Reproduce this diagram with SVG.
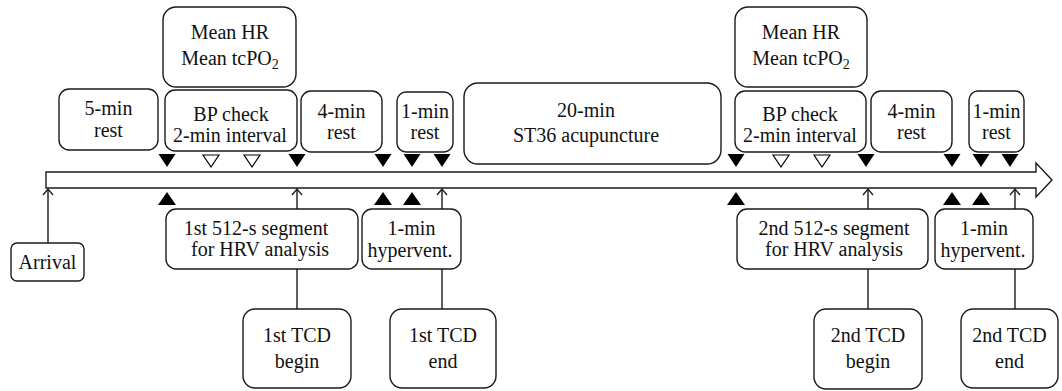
<svg xmlns="http://www.w3.org/2000/svg" width="1062" height="391" viewBox="0 0 1062 391" font-family="Liberation Serif, Times New Roman, DejaVu Serif, serif">
<style>
.b{fill:#fff;stroke:#1a1a1a;stroke-width:1.4}
text{font-family:"Liberation Serif","Times New Roman","DejaVu Serif",serif;font-size:20px;fill:#111;text-anchor:middle}
.f{fill:#000}
.h{fill:#fff;stroke:#000;stroke-width:1.2}
.l{stroke:#1a1a1a;stroke-width:1.4;fill:none}
</style>
<defs>
<marker id="oa" markerWidth="10" markerHeight="12" refX="7" refY="6" orient="auto" markerUnits="userSpaceOnUse" viewBox="0 0 10 12">
<path d="M1,1 L7,6 L1,11" fill="none" stroke="#1a1a1a" stroke-width="1.3"/>
</marker>
</defs>
<rect width="1062" height="391" fill="#fff"/>
<g id="timeline">
<polygon class="b" points="46,172 1036,172 1036,163 1052,180 1036,197 1036,188 46,188"/>
</g>
<g id="connectors">
<line class="l" x1="48" y1="243" x2="48" y2="189" marker-end="url(#oa)"/>
<line class="l" x1="297" y1="209" x2="297" y2="189" marker-end="url(#oa)"/>
<line class="l" x1="297" y1="269" x2="297" y2="309"/>
<line class="l" x1="442" y1="209" x2="442" y2="189" marker-end="url(#oa)"/>
<line class="l" x1="442" y1="269" x2="442" y2="309"/>
<line class="l" x1="868" y1="209" x2="868" y2="189" marker-end="url(#oa)"/>
<line class="l" x1="868" y1="269" x2="868" y2="309"/>
<line class="l" x1="1015" y1="209" x2="1015" y2="189" marker-end="url(#oa)"/>
<line class="l" x1="1015" y1="269" x2="1015" y2="309"/>
</g>
<g id="markers">
<polygon class="f" points="158.5,154 175.5,154 167,167"/>
<polygon class="h" points="203,155 219,155 211,167"/>
<polygon class="h" points="244,155 260,155 252,167"/>
<polygon class="f" points="288.5,154 305.5,154 297,167"/>
<polygon class="f" points="374.5,154 391.5,154 383,167"/>
<polygon class="f" points="403.5,154 420.5,154 412,167"/>
<polygon class="f" points="433.5,154 450.5,154 442,167"/>
<polygon class="f" points="727.5,154 744.5,154 736,167"/>
<polygon class="h" points="773,155 789,155 781,167"/>
<polygon class="h" points="814,155 830,155 822,167"/>
<polygon class="f" points="857.5,154 874.5,154 866,167"/>
<polygon class="f" points="943.5,154 960.5,154 952,167"/>
<polygon class="f" points="972.5,154 989.5,154 981,167"/>
<polygon class="f" points="1001.5,154 1018.5,154 1010,167"/>
<polygon class="f" points="167,192 158,205 176,205"/>
<polygon class="f" points="383,192 374,205 392,205"/>
<polygon class="f" points="412,192 403,205 421,205"/>
<polygon class="f" points="736,192 727,205 745,205"/>
<polygon class="f" points="952,192 943,205 961,205"/>
<polygon class="f" points="981,192 972,205 990,205"/>
</g>
<g id="rest5"><rect class="b" x="59" y="89" width="99" height="61" rx="10"/><text x="108.5" y="115">5-min</text><text x="108.5" y="137">rest</text></g>
<g id="mean1"><rect class="b" x="163" y="7" width="133" height="80" rx="13"/><text x="230" y="39">Mean HR</text><text x="230" y="65">Mean tcPO<tspan font-size="14" dy="4">2</tspan></text></g>
<g id="bp1"><rect class="b" x="165" y="90" width="132" height="61" rx="10"/><text x="231" y="121">BP check</text><text x="230" y="142">2-min interval</text></g>
<g id="rest4"><rect class="b" x="301" y="91" width="81" height="61" rx="10"/><text x="341.5" y="118">4-min</text><text x="341.5" y="139">rest</text></g>
<g id="rest1"><rect class="b" x="397" y="92" width="56" height="60" rx="9"/><text x="425" y="118">1-min</text><text x="425" y="139">rest</text></g>
<g id="acu"><rect class="b" x="464" y="83" width="257" height="81" rx="14"/><text x="586" y="117">20-min</text><text x="586" y="142">ST36 acupuncture</text></g>
<g id="mean2"><rect class="b" x="735" y="7" width="132" height="80" rx="13"/><text x="801" y="39">Mean HR</text><text x="801" y="65">Mean tcPO<tspan font-size="14" dy="4">2</tspan></text></g>
<g id="bp2"><rect class="b" x="735" y="91" width="131" height="61" rx="10"/><text x="800" y="121">BP check</text><text x="800" y="142">2-min interval</text></g>
<g id="rest4b"><rect class="b" x="871" y="91" width="81" height="61" rx="10"/><text x="911.5" y="118">4-min</text><text x="911.5" y="139">rest</text></g>
<g id="rest1b"><rect class="b" x="969" y="91" width="55" height="61" rx="9"/><text x="996.5" y="118">1-min</text><text x="996.5" y="139">rest</text></g>
<g id="arrival"><rect class="b" x="11" y="243" width="73" height="38" rx="6"/><text x="47.5" y="269">Arrival</text></g>
<g id="seg1"><rect class="b" x="166" y="209" width="192" height="60" rx="10"/><text x="256" y="235">1st 512-s segment</text><text x="260" y="256">for HRV analysis</text></g>
<g id="hyp1"><rect class="b" x="362" y="209" width="99" height="60" rx="10"/><text x="411.5" y="235">1-min</text><text x="410" y="257">hypervent.</text></g>
<g id="tcd1b"><rect class="b" x="243" y="309" width="108" height="79" rx="12"/><text x="297" y="342">1st TCD</text><text x="297" y="368">begin</text></g>
<g id="tcd1e"><rect class="b" x="390" y="309" width="106" height="79" rx="12"/><text x="443" y="342">1st TCD</text><text x="443" y="368">end</text></g>
<g id="seg2"><rect class="b" x="737" y="209" width="191" height="60" rx="10"/><text x="834" y="235">2nd 512-s segment</text><text x="834" y="256">for HRV analysis</text></g>
<g id="hyp2"><rect class="b" x="935" y="209" width="98" height="60" rx="10"/><text x="984" y="235">1-min</text><text x="983" y="257">hypervent.</text></g>
<g id="tcd2b"><rect class="b" x="814" y="309" width="108" height="80" rx="12"/><text x="868" y="342">2nd TCD</text><text x="868" y="368">begin</text></g>
<g id="tcd2e"><rect class="b" x="961" y="309" width="97" height="79" rx="12"/><text x="1009.5" y="342">2nd TCD</text><text x="1009.5" y="368">end</text></g>
</svg>
